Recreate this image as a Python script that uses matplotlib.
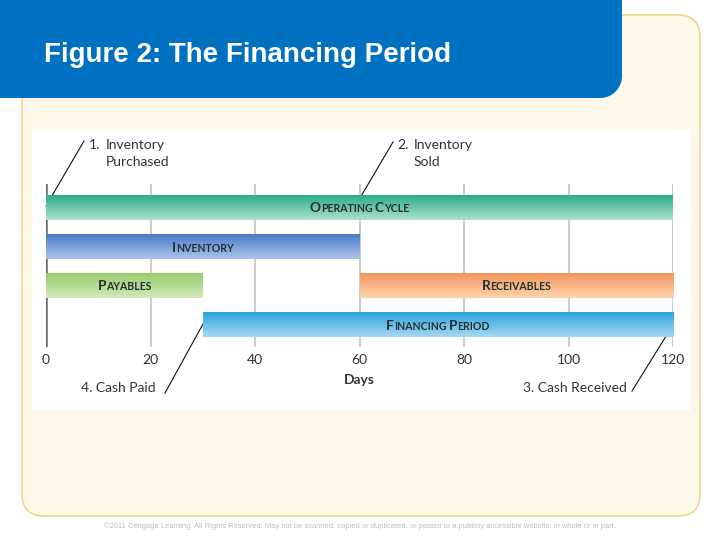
import matplotlib
matplotlib.use("Agg")
import matplotlib.pyplot as plt
import numpy as np
from matplotlib.colors import LinearSegmentedColormap
from matplotlib.patches import FancyBboxPatch, Rectangle, Polygon
from matplotlib.transforms import offset_copy

# ---- data ----
phases = ["Operating Cycle", "Inventory", "Payables", "Receivables", "Financing Period"]
starts = [0, 0, 0, 60, 30]
ends = [120, 60, 30, 120, 120]
rows = [0, 1, 2, 2, 3]
top_colors = ["#2aae8a", "#4a7cc8", "#96cb6c", "#f3965a", "#2aa4e0"]
bottom_colors = ["#ade0cd", "#abc3ea", "#d3eabb", "#fdd3ae", "#a9d7f2"]
day_ticks = [0, 20, 40, 60, 80, 100, 120]

title = "Figure 2: The Financing Period"
footer = ("\u00a92011 Cengage Learning. All Rights Reserved. May not be scanned, copied or duplicated, "
          "or posted to a publicly accessible website, in whole or in part.")

W, H = 720, 540
fig = plt.figure(figsize=(W / 100, H / 100), dpi=100)
fig.patch.set_facecolor("white")

# slide decoration axes in pixel coordinates
bg = fig.add_axes([0, 0, 1, 1])
bg.set_xlim(0, W)
bg.set_ylim(H, 0)
bg.axis("off")

frame = FancyBboxPatch((22, 15), 678, 501, boxstyle="round,pad=0,rounding_size=22",
                       facecolor="#fef8ea", edgecolor="#f2d48c", lw=1.2, zorder=1)
bg.add_patch(frame)

# blue header with rounded bottom-right corner
r = 22
ang = np.linspace(0, np.pi / 2, 20)
arc = np.column_stack([622 - r + r * np.cos(ang), 98 - r + r * np.sin(ang)])
header = np.vstack([[[0, 0], [622, 0]], arc, [[0, 98]]])
bg.add_patch(Polygon(header, closed=True, facecolor="#0070c0", edgecolor="none", zorder=2))
bg.text(44, 55, title, color="white", fontsize=20, fontweight="bold",
        family="Liberation Sans", va="center", ha="left", zorder=3)

bg.add_patch(Rectangle((32, 130), 658, 281, facecolor="white", edgecolor="none", zorder=2))

bg.text(360, 526, footer, color="#bdbdbd", fontsize=5.4, ha="center", va="center",
        family="Liberation Sans", zorder=3)

# ---- chart axes ----
x0, x1 = 46, 673
y0, y1 = 184, 347
ax = fig.add_axes([x0 / W, (H - y1) / H, (x1 - x0) / W, (y1 - y0) / H])
ax.set_zorder(3)
ax.patch.set_alpha(0)
row_gap = 39.0
bar_h = 25.0 / row_gap
row_top = (y0 - 207.5) / row_gap
row_bot = (y1 - 207.5) / row_gap

font = "Lato"
for s, e, rw, ct, cb in zip(starts, ends, rows, top_colors, bottom_colors):
    cmap = LinearSegmentedColormap.from_list("g", [ct, cb])
    grad = np.linspace(0, 1, 64).reshape(-1, 1)
    ax.imshow(grad, cmap=cmap, aspect="auto", origin="upper", interpolation="bilinear",
              extent=(s, e, rw + bar_h / 2, rw - bar_h / 2), zorder=3)

ax.set_xlim(0, 120)
ax.set_ylim(row_bot, row_top)
ax.set_xticks(day_ticks)
ax.set_xticklabels([str(t) for t in day_ticks], family=font, fontsize=10, color="#333333")
ax.set_yticks([])
ax.tick_params(axis="x", length=0, pad=5)
for sp in ax.spines.values():
    sp.set_visible(False)
ax.grid(axis="x", color="#c8c8c8", lw=1.3, zorder=1)
ax.axvline(0, color="#6a6a6a", lw=1.8, zorder=2)
ax.set_xlabel("Days", family=font, fontsize=10, fontweight="bold", color="#333333", labelpad=6)

# small caps bar labels
renderer = fig.canvas.get_renderer()


def small_caps(x, y, label, big=9.8, small=7.6):
    pieces = []
    for i, word in enumerate(label.split()):
        if i > 0:
            pieces.append((" ", small))
        pieces.append((word[0].upper(), big))
        pieces.append((word[1:].upper(), small))
    texts = []
    for txt, size in pieces:
        t = ax.text(x, y, txt, fontsize=size, family=font, fontweight="bold", color="#223030",
                    ha="left", va="baseline", zorder=5)
        texts.append(t)
    widths = [t.get_window_extent(renderer).width for t in texts]
    total = sum(widths)
    pos = -total / 2
    for t, w in zip(texts, widths):
        t.set_transform(offset_copy(ax.transData, fig=fig, x=pos, y=-5, units="dots"))
        pos += w


for name, s, e, rw in zip(phases, starts, ends, rows):
    small_caps((s + e) / 2, rw, name)

# callouts (pixel coordinates on the slide)
note_kw = dict(family=font, fontsize=10, color="#333333", va="center", zorder=5)
bg.text(89, 145, "1.", ha="left", **note_kw)
bg.text(106, 145, "Inventory", ha="left", **note_kw)
bg.text(106, 162, "Purchased", ha="left", **note_kw)
bg.text(397, 145, "2.", ha="left", **note_kw)
bg.text(414, 145, "Inventory", ha="left", **note_kw)
bg.text(414, 162, "Sold", ha="left", **note_kw)
bg.text(156, 388, "4. Cash Paid", ha="right", **note_kw)
bg.text(627, 388, "3. Cash Received", ha="right", **note_kw)

line_kw = dict(color="#111111", lw=0.8, zorder=6)
bg.plot([46, 84], [206, 141], **line_kw)
bg.plot([360, 393], [198, 142], **line_kw)
bg.plot([203, 165], [324, 393], **line_kw)
bg.plot([673, 632], [325, 391], **line_kw)

fig.savefig("out.png", dpi=100)
